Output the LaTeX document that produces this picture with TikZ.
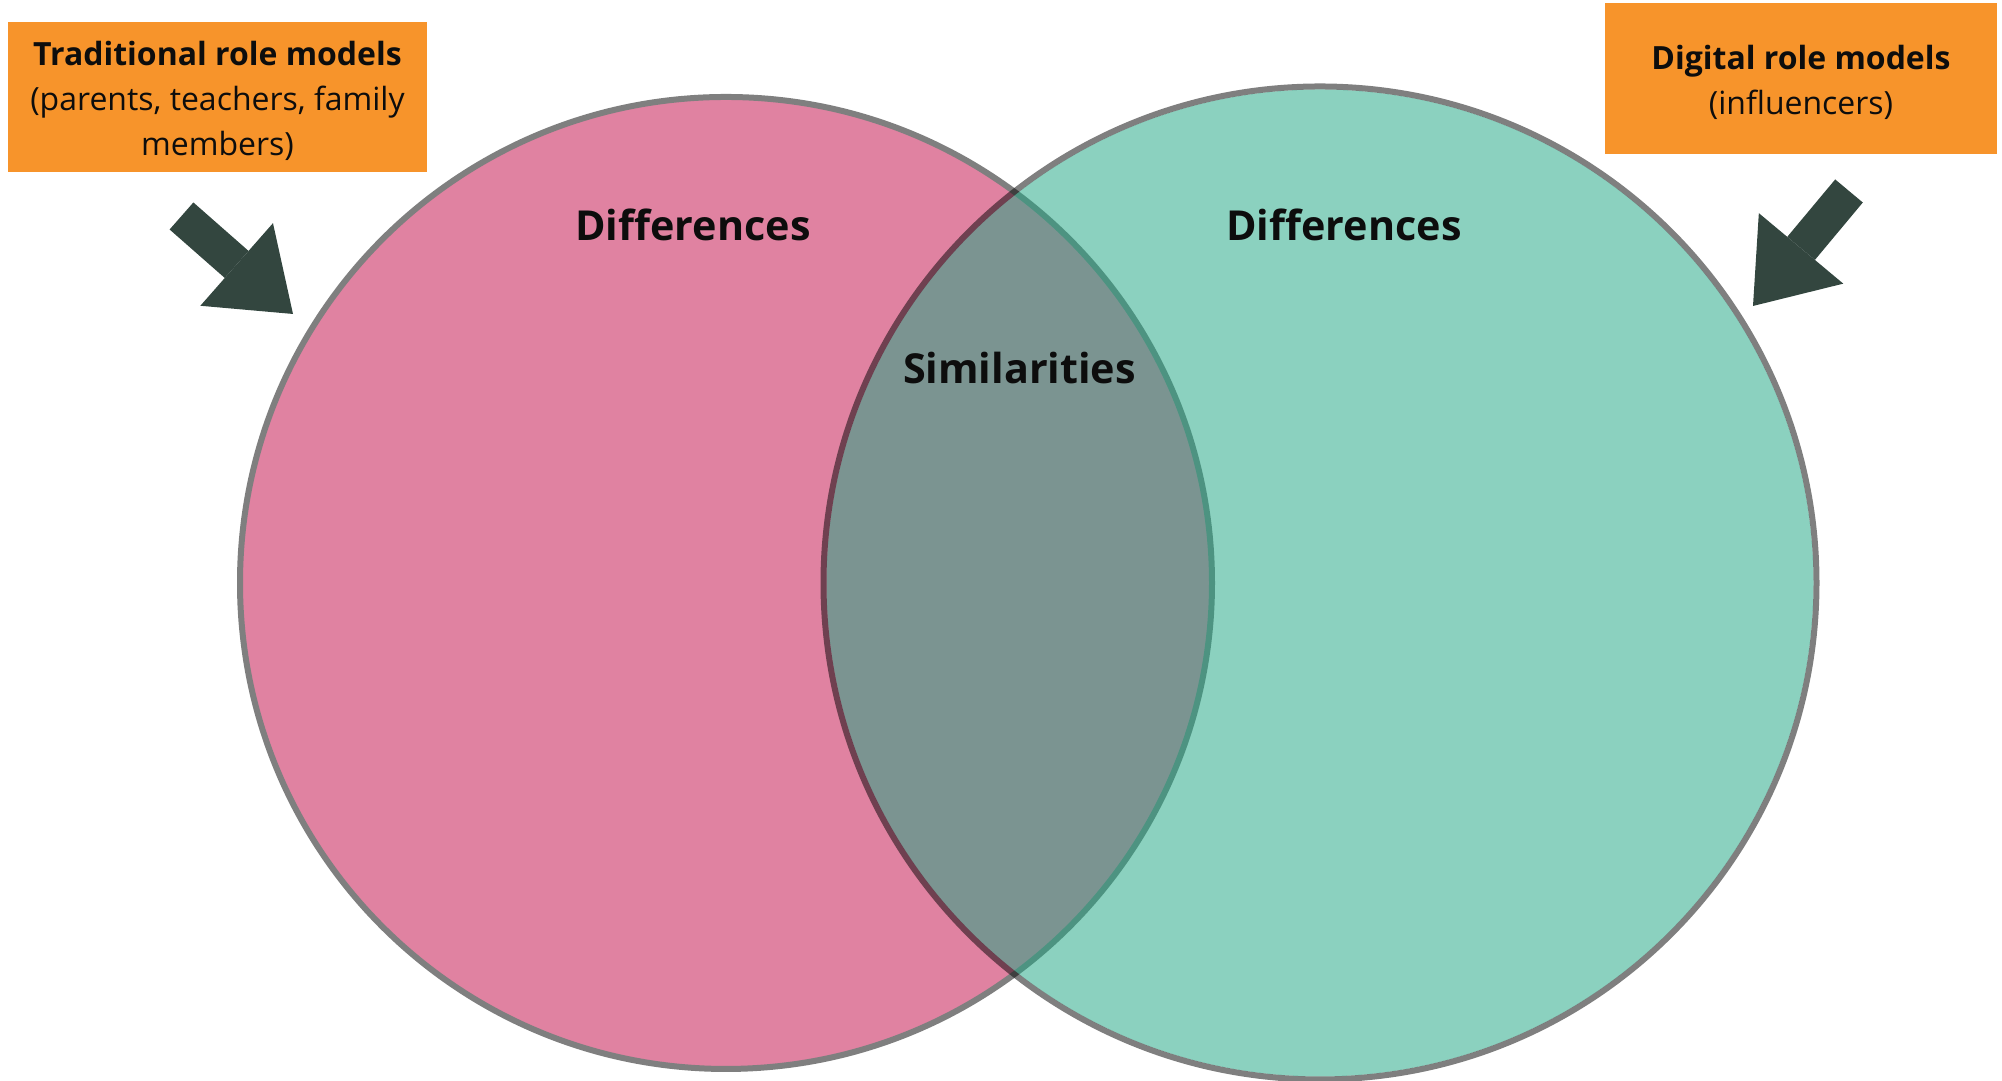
\documentclass[tikz,border=0pt]{standalone}
\usepackage{fontspec}
\setsansfont{Open Sans}
\usetikzlibrary{arrows.meta, positioning}
\definecolor{setPink}{HTML}{E082A1}
\definecolor{setTeal}{HTML}{20A684}
\definecolor{ringGrey}{HTML}{7F7F7F}
\definecolor{boxOrange}{HTML}{F7942B}
\definecolor{arrowDark}{HTML}{33463F}
\definecolor{ink}{HTML}{0D0D0D}
\tikzset{
  font=\sffamily,
  rolebox/.style={rectangle, fill=boxOrange, inner sep=0pt},
  roletext/.style={text=ink, align=center, inner sep=0pt,
                   font=\sffamily\fontsize{9.1}{12.7}\selectfont},
  setlabel/.style={text=ink, font=\sffamily\bfseries\fontsize{11.75}{14}\selectfont},
  leftset/.style={fill=setPink, draw=ringGrey, line width=0.6mm},
  rightfill/.style={fill=setTeal, fill opacity=0.52},
  rightring/.style={draw=black, draw opacity=0.5, line width=0.6mm},
  pointer/.style={draw=arrowDark, line width=3.6mm,
                  -{Triangle[length=7.5mm, width=11mm, line width=0pt, fill=arrowDark]}},
}

\begin{document}
\begin{tikzpicture}
\useasboundingbox (0,0) rectangle (20.02,10.81);

% --- the two sets ---
\coordinate (tradc) at (7.26, 4.98);
\coordinate (digic) at (13.20, 4.98);
\draw[leftset] (tradc) circle (4.86);
\fill[rightfill] (digic) circle (4.935);
\draw[rightring] (digic) circle (4.965);

% --- labels inside ---
\node[setlabel] (trdiff) at (6.93, 8.56) {Differences};
\node[setlabel] (dgdiff) at (13.44, 8.56) {Differences};
\node[setlabel] (simil)  at (10.195, 7.13) {Similarities};

% --- orange boxes ---
\node[rolebox, minimum width=4.19cm, minimum height=1.50cm] (trad) at (2.175, 9.84) {};
\node[roletext] (tradtxt) at ([yshift=-0.04cm]trad.center)
  {\textbf{Traditional role models}\\(parents, teachers, family\\members)};
\node[rolebox, minimum width=3.92cm, minimum height=1.51cm] (digi) at (18.01, 10.025) {};
\node[roletext] (digitxt) at ([yshift=-0.04cm]digi.center)
  {\textbf{Digital role models}\\(influencers)};

% --- block arrows ---
\coordinate (ltail) at (1.815, 8.65);
\coordinate (ltip)  at (2.93, 7.67);
\coordinate (rtail) at (18.49, 8.90);
\coordinate (rtip)  at (17.53, 7.75);
\draw[pointer] (ltail) -- (ltip);
\draw[pointer] (rtail) -- (rtip);

\end{tikzpicture}
\end{document}
